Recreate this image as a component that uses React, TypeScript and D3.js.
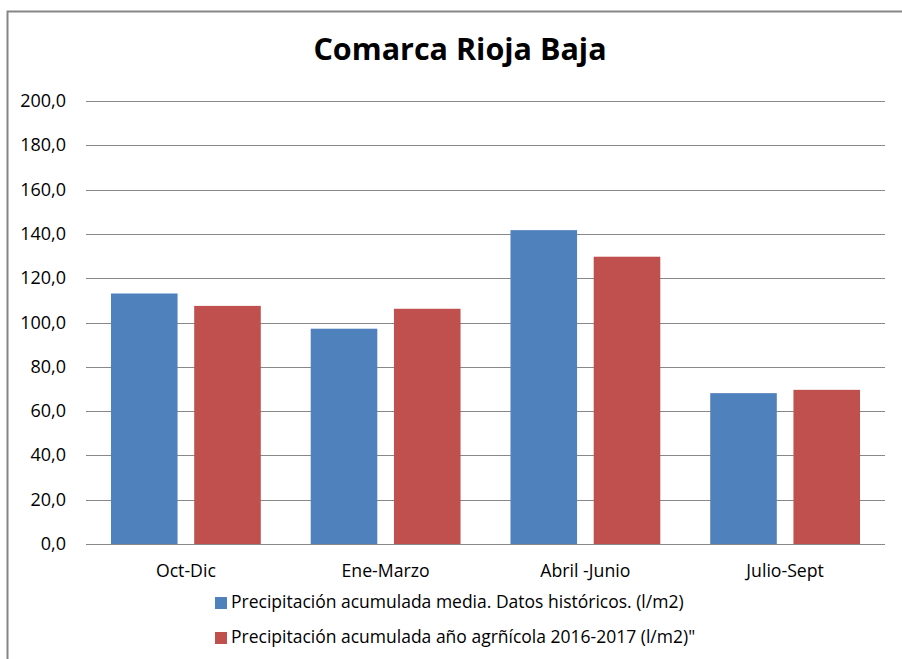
import React from 'react';
import * as d3 from 'd3';

const categories = ['Oct-Dic', 'Ene-Marzo', 'Abril -Junio', 'Julio-Sept'];
const seriesNames = [
  'Precipitación acumulada media. Datos históricos. (l/m2)',
  'Precipitación acumulada año agrñícola 2016-2017 (l/m2)"',
];
const historico = [113.1, 97.2, 141.7, 68.1];
const campania = [107.5, 106.2, 129.7, 69.6];
const yTicks = [0, 20, 40, 60, 80, 100, 120, 140, 160, 180, 200];
const colors = ['#4F81BD', '#C0504D'];

const W = 902;
const H = 659;
const font = "'Open Sans', sans-serif";

const App = () => {
  const left = 86;
  const right = 885;
  const top = 101;
  const bottom = 544;

  const x = d3.scaleBand().domain(categories).range([left, right]).paddingInner(0).paddingOuter(0);
  const inner = d3.scaleBand().domain(['0', '1']).range([0, x.bandwidth()]).paddingInner(0.2).paddingOuter(0.3);
  const y = d3.scaleLinear().domain([0, 200]).range([bottom, top]);
  const fmt = (v: number) => d3.format('.1f')(v).replace('.', ',');
  const series = [historico, campania];

  return (
    <svg width={W} height={H} style={{ position: 'absolute', left: 0, top: 0 }}>
      <rect x={0} y={0} width={W} height={H} fill="#fff" />
      <rect x={7.5} y={11.5} width={W + 10} height={H} fill="none" stroke="#868686" strokeWidth={2} />
      <text x={460} y={60} textAnchor="middle" fontFamily={font} fontWeight="bold" fontSize={30.5} fill="#000">
        Comarca Rioja Baja
      </text>
      {yTicks.map((t) => (
        <g key={t}>
          <line x1={left} x2={right} y1={Math.round(y(t)) + 0.5} y2={Math.round(y(t)) + 0.5} stroke="#888" strokeWidth={1} />
          <text x={66} y={y(t) + 6} textAnchor="end" fontFamily={font} fontSize={18} fill="#000">
            {fmt(t)}
          </text>
        </g>
      ))}
      {categories.map((c, i) => (
        <g key={c}>
          {series.map((s, j) => (
            <rect
              key={j}
              x={(x(c) as number) + (inner(String(j)) as number)}
              y={y(s[i])}
              width={inner.bandwidth()}
              height={y(0) - y(s[i])}
              fill={colors[j]}
            />
          ))}
          <text x={(x(c) as number) + x.bandwidth() / 2} y={577} textAnchor="middle" fontFamily={font} fontSize={17.7} fill="#000">
            {c}
          </text>
        </g>
      ))}
      <line x1={left} x2={right} y1={Math.round(y(0)) + 0.5} y2={Math.round(y(0)) + 0.5} stroke="#888" strokeWidth={1} />
      {seriesNames.map((n, j) => (
        <g key={n}>
          <rect x={215} y={597 + j * 35} width={12} height={12} fill={colors[j]} />
          <text x={231} y={608 + j * 35} fontFamily={font} fontSize={17.5} fill="#000">
            {n}
          </text>
        </g>
      ))}
    </svg>
  );
};

export default App;
